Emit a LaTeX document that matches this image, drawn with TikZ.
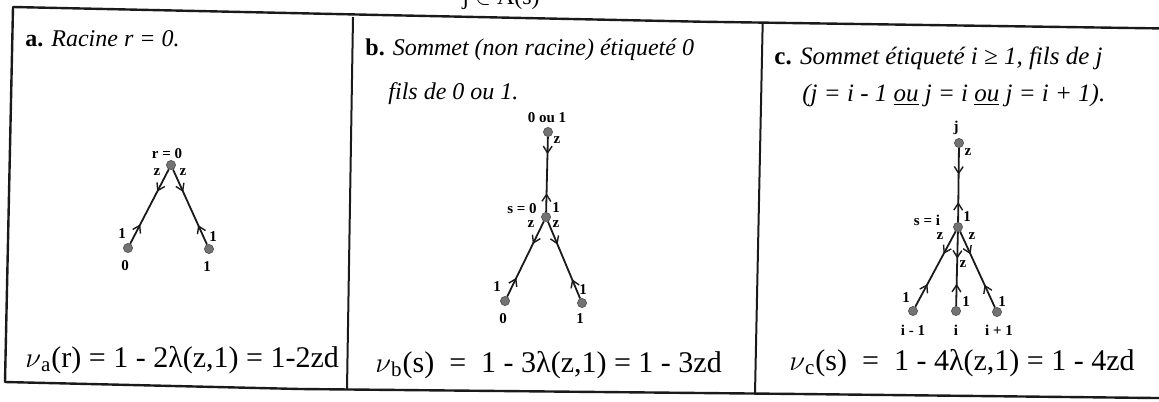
\documentclass[tikz,border=0pt]{standalone}
\usepackage{fontspec}
\setmainfont{Liberation Serif}
\usepackage{tikz}
\usetikzlibrary{arrows.meta, decorations.markings}
\usepackage{xcolor}
\definecolor{dotgray}{HTML}{737373}
\definecolor{inkblack}{HTML}{1A1A1A}

\tikzset{
  vtx/.style={circle, fill=dotgray, draw=dotgray!70!black, line width=0.3pt, inner sep=0pt, minimum size=4.6pt},
  lbl/.style={font=\fontsize{7.5}{8}\selectfont\bfseries, inner sep=0pt},
  tedge/.style 2 args={inkblack, line width=0.9pt, decoration={markings,
      mark=at position #1 with {\arrow{Straight Barb[length=3.4pt, width=4.4pt, line width=0.7pt]}},
      mark=at position #2 with {\arrowreversed{Straight Barb[length=3.4pt, width=4.4pt, line width=0.7pt]}}},
    postaction={decorate}},
  panelline/.style={inkblack, line width=1.2pt, line join=round},
  headtxt/.style={anchor=base west, inner sep=0pt, font=\fontsize{12}{14}\selectfont},
  formula/.style={anchor=base west, inner sep=0pt, font=\fontsize{15}{17}\selectfont}
}

\begin{document}
\begin{tikzpicture}[x=0.5pt, y=-0.5pt]
  \useasboundingbox (0,0) rectangle (1159,401);
  % frame of the three panels (scanned, slightly skewed)
  \draw[panelline] (1200,29) -- (700,21.7) -- (380,15) -- (13,7) -- (5,382) -- (300,389) -- (800,394) -- (1200,398.5);
  \draw[panelline, line width=1pt] (353,17) -- (347,389);
  \draw[panelline, line width=1pt] (762.7,22) -- (755,393.5);
  \node[headtxt] (topcut) at (462,5) {j $\in$ A(s)};

  % a. racine
  \node[headtxt] (ha) at (25,47) {\textbf{a.} \textit{Racine r = 0.}};
  \node[vtx] (ra) at (171,165) {};
  \node[vtx] (a0) at (128,248) {};
  \node[vtx] (a1) at (209,249) {};
  \draw[tedge={0.3}{0.74}] (ra) -- (a0);
  \draw[tedge={0.3}{0.74}] (ra) -- (a1);
  \node[lbl] (lra) at (167,154) {r = 0};
  \node[lbl] (la0) at (125,266) {0};
  \node[lbl] (la1) at (207,267) {1};
  \node[lbl] (za0) at (157,172) {z};
  \node[lbl] (za1) at (183,172) {z};
  \node[lbl] (ua0) at (122,234) {1};
  \node[lbl] (ua1) at (213,237) {1};
  \node[formula] (fa) at (25,367) {$\nu$\textsubscript{a}(r) = 1 - 2λ(z,1) = 1-2zd};

  % b. sommet etiquete 0
  \node[headtxt] (hb1) at (365,56) {\textbf{b.} \textit{Sommet (non racine) étiqueté 0}};
  \node[headtxt] (hb2) at (388,99) {\textit{fils de 0 ou 1.}};
  \node[vtx] (bt) at (548,132) {};
  \node[vtx] (bs) at (546,217) {};
  \node[vtx] (b0) at (505,301) {};
  \node[vtx] (b1) at (582,303) {};
  \draw[tedge={0.23}{0.75}] (bt) -- (bs);
  \draw[tedge={0.3}{0.75}] (bs) -- (b0);
  \draw[tedge={0.3}{0.75}] (bs) -- (b1);
  \node[lbl] (lbt) at (547,118) {0 ou 1};
  \node[lbl] (lbs) at (522,209) {s = 0};
  \node[lbl] (lb0) at (503,319) {0};
  \node[lbl] (lb1) at (580,319) {1};
  \node[lbl] (zbt) at (557,140) {z};
  \node[lbl] (ubs) at (556,208) {1};
  \node[lbl] (zb0) at (531,224) {z};
  \node[lbl] (zb1) at (556,224) {z};
  \node[lbl] (ub0) at (497,287) {1};
  \node[lbl] (ub1) at (583,290) {1};
  \node[formula] (fb) at (375,372) {$\nu$\textsubscript{b}(s) \ = \ 1 - 3λ(z,1) = 1 - 3zd};

  % c. sommet etiquete i >= 1
  \node[headtxt, font=\fontsize{12.5}{14}\selectfont] (hc1) at (774,65) {\textbf{c.} \textit{Sommet étiqueté i ≥ 1, fils de j}};
  \node[headtxt, font=\fontsize{12.5}{14}\selectfont] (hc2) at (802,101) {\textit{(j = i - 1 \underline{ou} j = i \underline{ou} j = i + 1).}};
  \node[vtx] (cj) at (959,143) {};
  \node[vtx] (cs) at (958,227) {};
  \node[vtx] (cm) at (913,311) {};
  \node[vtx] (ci) at (956,311) {};
  \node[vtx] (cp) at (997,312) {};
  \draw[tedge={0.36}{0.73}] (cj) -- (cs);
  \draw[tedge={0.3}{0.7}] (cs) -- (cm);
  \draw[tedge={0.36}{0.7}] (cs) -- (ci);
  \draw[tedge={0.3}{0.7}] (cs) -- (cp);
  \node[lbl] (lcj) at (956,128) {j};
  \node[lbl] (lcs) at (927,220) {s = i};
  \node[lbl] (lcm) at (913,330) {i - 1};
  \node[lbl] (lci) at (956,330) {i};
  \node[lbl] (lcp) at (999,330) {i + 1};
  \node[lbl] (zcj) at (968,152) {z};
  \node[lbl] (ucs) at (967,217) {1};
  \node[lbl] (zcm) at (940,236) {z};
  \node[lbl] (zcp) at (972,236) {z};
  \node[lbl] (zci) at (963,264) {z};
  \node[lbl] (ucm) at (906,298) {1};
  \node[lbl] (uci) at (966,302) {1};
  \node[lbl] (ucp) at (1002,302) {1};
  \node[formula] (fc) at (789,370) {$\nu$\textsubscript{c}(s) \ = \ 1 - 4λ(z,1) = 1 - 4zd};
\end{tikzpicture}
\end{document}
